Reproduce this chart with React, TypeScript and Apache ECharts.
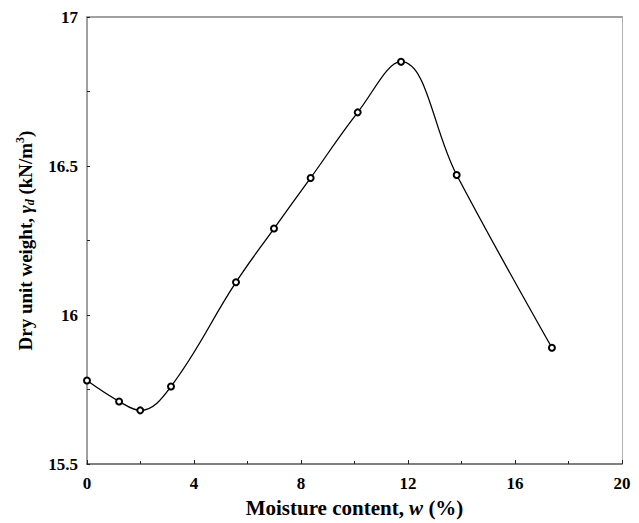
import React, { useEffect, useRef } from "react";
import * as echarts from "echarts";

const moisture = [0, 1.2, 1.99, 3.14, 5.57, 6.99, 8.36, 10.12, 11.74, 13.82, 17.38];
const dryUnitWeight = [15.78, 15.71, 15.68, 15.76, 16.11, 16.29, 16.46, 16.68, 16.85, 16.47, 15.89];

const xMin = 0;
const xMax = 20;
const xInterval = 4;
const yMin = 15.5;
const yMax = 17;
const yInterval = 0.5;

const FONT = '"Liberation Serif", "Times New Roman", serif';

export default function App() {
  const ref = useRef<HTMLDivElement>(null);
  useEffect(() => {
    if (!ref.current) return;
    const chart = echarts.init(ref.current, undefined, { renderer: "svg" });
    const points = moisture.map((x, i) => [x, dryUnitWeight[i]]);
    chart.setOption({
      animation: false,
      backgroundColor: "#ffffff",
      grid: { left: 87, right: 17, top: 17, bottom: 56, containLabel: false },
      xAxis: [
        {
          type: "value",
          min: xMin,
          max: xMax,
          interval: xInterval,
          position: "bottom",
          name: "{b|Moisture content, }{i|w}{b| (%)}",
          nameLocation: "middle",
          nameGap: 33,
          nameTextStyle: {
            rich: {
              b: { fontFamily: FONT, fontWeight: "bold", fontSize: 21, color: "#000" },
              i: { fontFamily: FONT, fontWeight: "bold", fontStyle: "italic", fontSize: 21, color: "#000" },
            },
          },
          axisLine: { show: true, onZero: false, lineStyle: { color: "#555", width: 1.5 } },
          axisTick: { show: true, inside: true, length: 4, lineStyle: { color: "#222", width: 1 } },
          minorTick: { show: true, splitNumber: 2, length: 3, lineStyle: { color: "#222", width: 1 } },
          axisLabel: { margin: 11, fontFamily: FONT, fontWeight: "bold", fontSize: 17, color: "#000" },
          splitLine: { show: false },
        },
        {
          type: "value",
          min: xMin,
          max: xMax,
          interval: xInterval,
          position: "top",
          axisLine: { show: true, onZero: false, lineStyle: { color: "#a0a0a0", width: 2 } },
          axisTick: { show: false },
          axisLabel: { show: false },
          splitLine: { show: false },
        },
      ],
      yAxis: [
        {
          type: "value",
          min: yMin,
          max: yMax,
          interval: yInterval,
          position: "left",
          name: "{b|Dry unit weight, }{i|γ}{sub|d}{b| (kN/m}{sup|3}{b|)}",
          nameLocation: "middle",
          nameGap: 51,
          nameRotate: 90,
          nameTextStyle: {
            rich: {
              b: { fontFamily: FONT, fontWeight: "bold", fontSize: 19, color: "#000", lineHeight: 22 },
              i: { fontFamily: FONT, fontWeight: "bold", fontStyle: "italic", fontSize: 19, color: "#000", lineHeight: 22 },
              sub: { fontFamily: FONT, fontWeight: "bold", fontStyle: "italic", fontSize: 12, color: "#000", verticalAlign: "bottom" },
              sup: { fontFamily: FONT, fontWeight: "bold", fontSize: 12, color: "#000", verticalAlign: "top" },
            },
          },
          axisLine: { show: true, onZero: false, lineStyle: { color: "#a0a0a0", width: 2 } },
          axisTick: { show: true, inside: true, length: 3, lineStyle: { color: "#222", width: 1 } },
          minorTick: { show: true, splitNumber: 2, length: 3, lineStyle: { color: "#222", width: 1 } },
          axisLabel: { margin: 9, fontFamily: FONT, fontWeight: "bold", fontSize: 17, color: "#000" },
          splitLine: { show: false },
        },
        {
          type: "value",
          min: yMin,
          max: yMax,
          interval: yInterval,
          position: "right",
          axisLine: { show: true, onZero: false, lineStyle: { color: "#b0b0b0", width: 1 } },
          axisTick: { show: false },
          axisLabel: { show: false },
          splitLine: { show: false },
        },
      ],
      series: [
        {
          type: "line",
          xAxisIndex: 0,
          yAxisIndex: 0,
          data: points,
          smooth: 0.4,
          symbol: "emptyCircle",
          symbolSize: 6,
          itemStyle: { color: "#000", borderWidth: 1.1 },
          lineStyle: { color: "#000", width: 1.3 },
          clip: false,
        },
      ],
    });
    return () => chart.dispose();
  }, []);
  return (
    <div
      ref={ref}
      style={{ position: "fixed", left: 0, top: 0, width: 639, height: 523, background: "#fff" }}
    />
  );
}
